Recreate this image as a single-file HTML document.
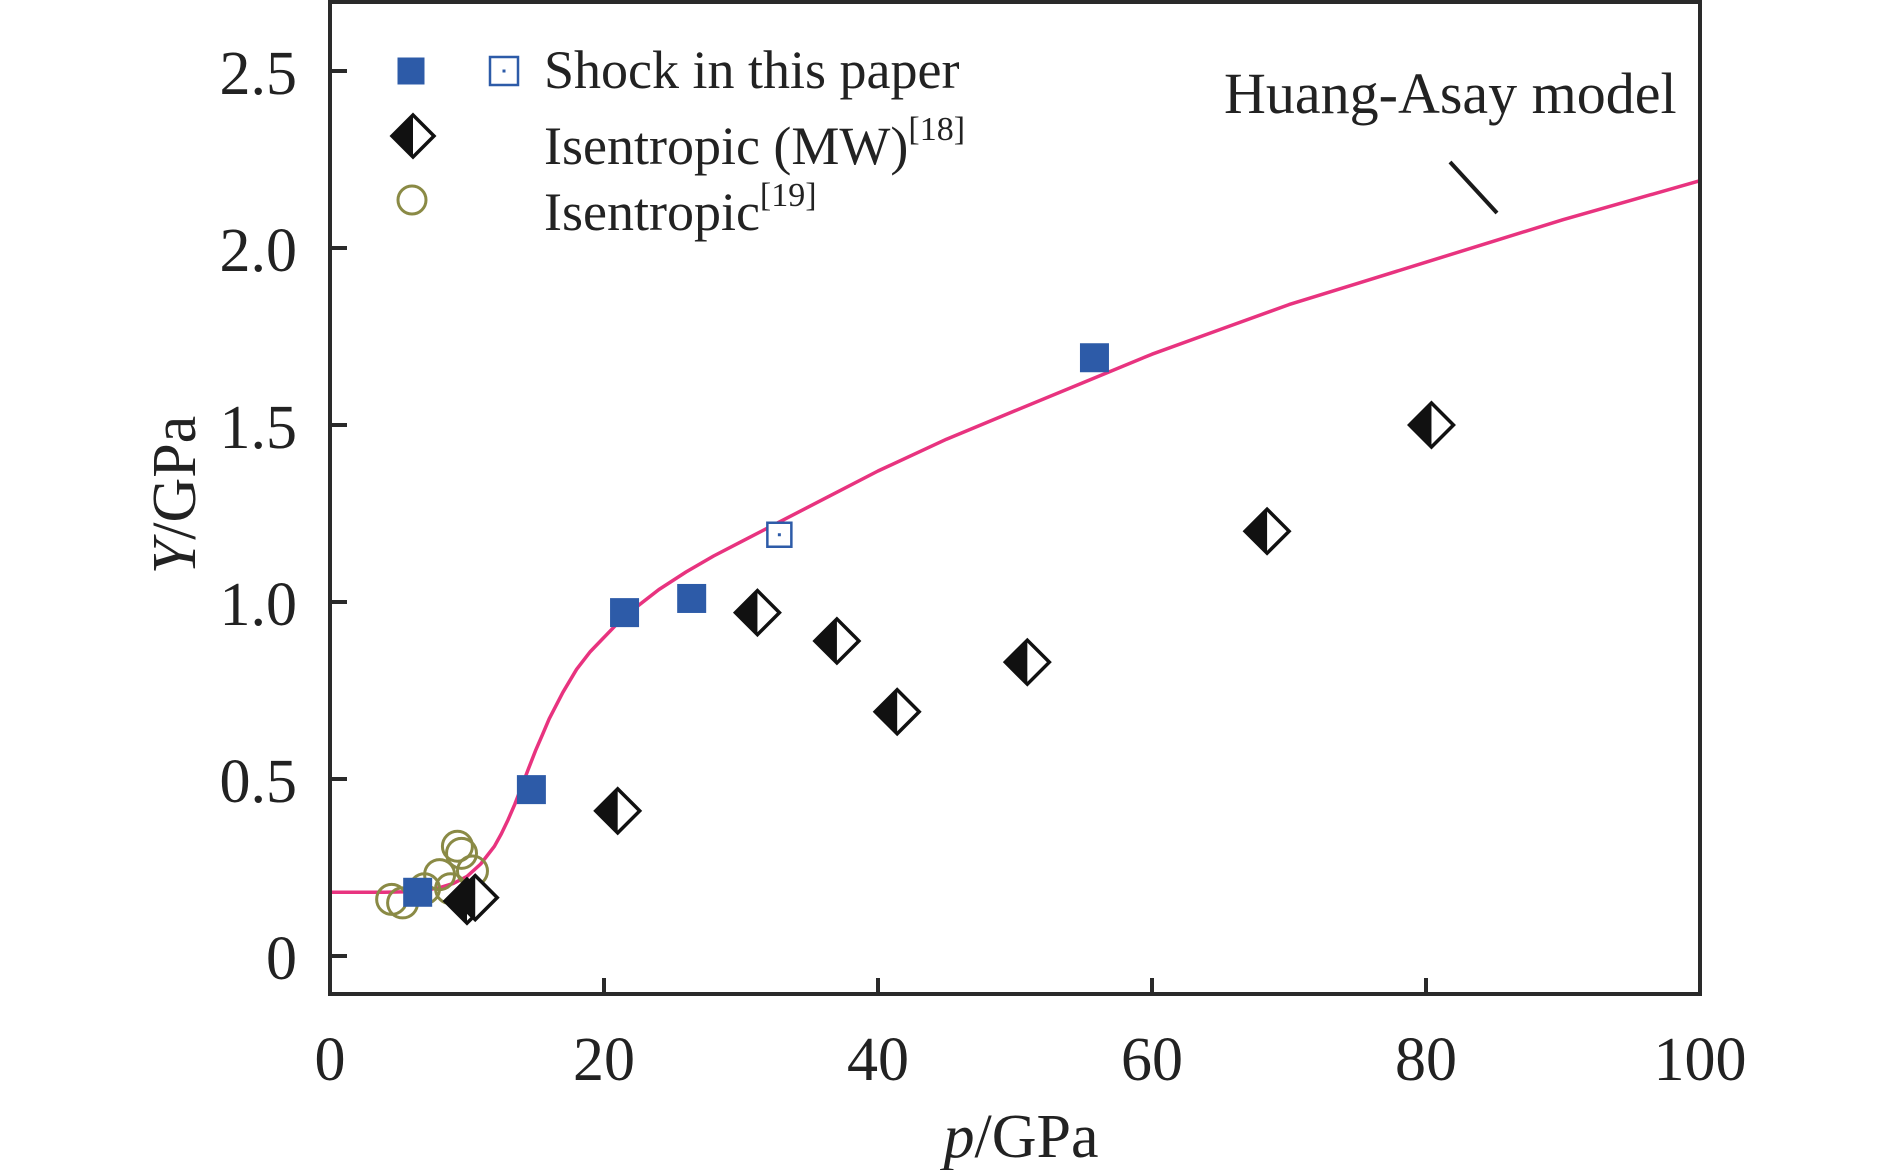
<!DOCTYPE html>
<html><head><meta charset="utf-8"><style>
html,body{margin:0;padding:0;background:#fff;}
svg{display:block;font-family:"Liberation Serif",serif;}
</style></head><body>
<svg id="chart" width="1890" height="1170" viewBox="0 0 1890 1170" xmlns="http://www.w3.org/2000/svg">
<g id="plot"></g>
</svg>
<script>
const xTicks=[0,20,40,60,80,100];
const xTickLabels=["0","20","40","60","80","100"];
const yTicks=[0,0.5,1.0,1.5,2.0,2.5];
const yTickLabels=["0","0.5","1.0","1.5","2.0","2.5"];
const shockP=[6.4,14.7,21.5,26.4,55.8];
const shockY=[0.18,0.47,0.97,1.01,1.69];
const shockOpenP=[32.8];
const shockOpenY=[1.19];
const mwP=[10.0,10.6,21.0,31.2,37.0,41.4,50.9,68.4,80.4];
const mwY=[0.155,0.165,0.41,0.97,0.89,0.69,0.83,1.20,1.50];
const isoP=[4.5,5.3,6.9,8.0,8.8,9.3,9.6,10.4];
const isoY=[0.16,0.15,0.19,0.23,0.19,0.31,0.29,0.24];
const modelP=[0,4,6,7,8,9,10,11,12,12.5,13,13.5,14,14.5,15,15.5,16,17,18,19,20,21,22,24,26,28,30,33,36,40,45,50,55,60,65,70,75,80,85,90,95,100];
const modelY=[0.18,0.18,0.182,0.186,0.193,0.205,0.225,0.26,0.31,0.345,0.385,0.43,0.48,0.53,0.58,0.625,0.67,0.745,0.81,0.86,0.90,0.94,0.975,1.035,1.085,1.13,1.17,1.23,1.29,1.37,1.46,1.54,1.62,1.70,1.77,1.84,1.90,1.96,2.02,2.08,2.135,2.19];

const X0=330,XS=13.7,Y0=956,YS=354;
const L=330,R=1700,T=2,B=994;
const xs=p=>X0+XS*p, ys=v=>Y0-YS*v;
const NS="http://www.w3.org/2000/svg";
const g=document.getElementById('plot');
function mk(tag,attrs,parent){const e=document.createElementNS(NS,tag);for(const k in attrs)e.setAttribute(k,attrs[k]);(parent||g).appendChild(e);return e;}

let d="";modelP.forEach((p,i)=>{d+=(i?"L":"M")+xs(p).toFixed(1)+","+ys(modelY[i]).toFixed(1);});
const cv=mk('path',{d:d,fill:'none',stroke:'#e8337f','stroke-width':3.5,'stroke-linejoin':'round'});



function circle(cx,cy,r,parent){return mk('circle',{cx:cx,cy:cy,r:r,fill:'none',stroke:'#8a8a45','stroke-width':3},parent);}
function fsq(cx,cy,s,parent){return mk('rect',{x:cx-s/2,y:cy-s/2,width:s,height:s,fill:'#2d5ba8'},parent);}
function osq(cx,cy,s,parent){const gg=mk('g',{},parent);mk('rect',{x:cx-s/2,y:cy-s/2,width:s,height:s,fill:'#fff',stroke:'#2d5ba8','stroke-width':2.5},gg);mk('rect',{x:cx-1.5,y:cy-1.5,width:3,height:3,fill:'#2d5ba8'},gg);return gg;}
function dia(cx,cy,h,parent){const gg=mk('g',{},parent);
 mk('polygon',{points:`${cx},${cy-h} ${cx+h},${cy} ${cx},${cy+h} ${cx-h},${cy}`,fill:'#fff',stroke:'#111','stroke-width':3.5},gg);
 mk('polygon',{points:`${cx},${cy-h} ${cx},${cy+h} ${cx-h},${cy}`,fill:'#111'},gg);return gg;}

isoP.forEach((p,i)=>{const e=circle(xs(p),ys(isoY[i]),15);
 
 });
shockP.forEach((p,i)=>{const e=fsq(xs(p),ys(shockY[i]),29);
 
 });
shockOpenP.forEach((p,i)=>{const e=osq(xs(p),ys(shockOpenY[i]),24);
 
 });
mwP.forEach((p,i)=>{const e=dia(xs(p),ys(mwY[i]),22);
 
 });

const fr=mk('rect',{x:L,y:T,width:R-L,height:B-T,fill:'none',stroke:'#2a2a2a','stroke-width':4});



xTicks.forEach((t,i)=>{const x=xs(t);
 if(t>0&&t<100){const tk=mk('line',{x1:x,y1:B,x2:x,y2:B-16,stroke:'#2a2a2a','stroke-width':4});
 
 }
 const tx=mk('text',{x:x,y:1080,'text-anchor':'middle','font-size':62,fill:'#222'});tx.textContent=xTickLabels[i];
 
 });
yTicks.forEach((t,i)=>{const y=ys(t);
 const tk=mk('line',{x1:L,y1:y,x2:L+17,y2:y,stroke:'#2a2a2a','stroke-width':4});
 
 
 const tx=mk('text',{x:297,y:y+23,'text-anchor':'end','font-size':62,fill:'#222'});tx.textContent=yTickLabels[i];
 
 });

const xt=mk('text',{x:1021,y:1157,'text-anchor':'middle','font-size':62,fill:'#222'});
xt.innerHTML='<tspan font-style="italic">p</tspan>/GPa';


const yt=mk('text',{x:0,y:0,'text-anchor':'middle','font-size':62,fill:'#222',transform:'translate(195,495) rotate(-90)'});
yt.innerHTML='<tspan font-style="italic">Y</tspan>/GPa';



const an=mk('text',{x:1224,y:113,'font-size':58,fill:'#222'});an.textContent='Huang-Asay model';


const ld=mk('line',{x1:1450,y1:162,x2:1497,y2:213,stroke:'#1a1a1a','stroke-width':4});



const lg=mk('g',{});


fsq(411,71,27,lg);osq(504,71,28,lg);dia(413,136,21,lg);circle(412,200,14,lg);
const t1=mk('text',{x:544,y:88,'font-size':54,fill:'#222'},lg);t1.textContent='Shock in this paper';


const t2=mk('text',{x:544,y:164,'font-size':54,fill:'#222'},lg);t2.innerHTML='Isentropic (MW)<tspan font-size="34" dy="-24">[18]</tspan>';


const t3=mk('text',{x:544,y:230,'font-size':54,fill:'#222'},lg);t3.innerHTML='Isentropic<tspan font-size="34" dy="-24">[19]</tspan>';


</script>
</body></html>
